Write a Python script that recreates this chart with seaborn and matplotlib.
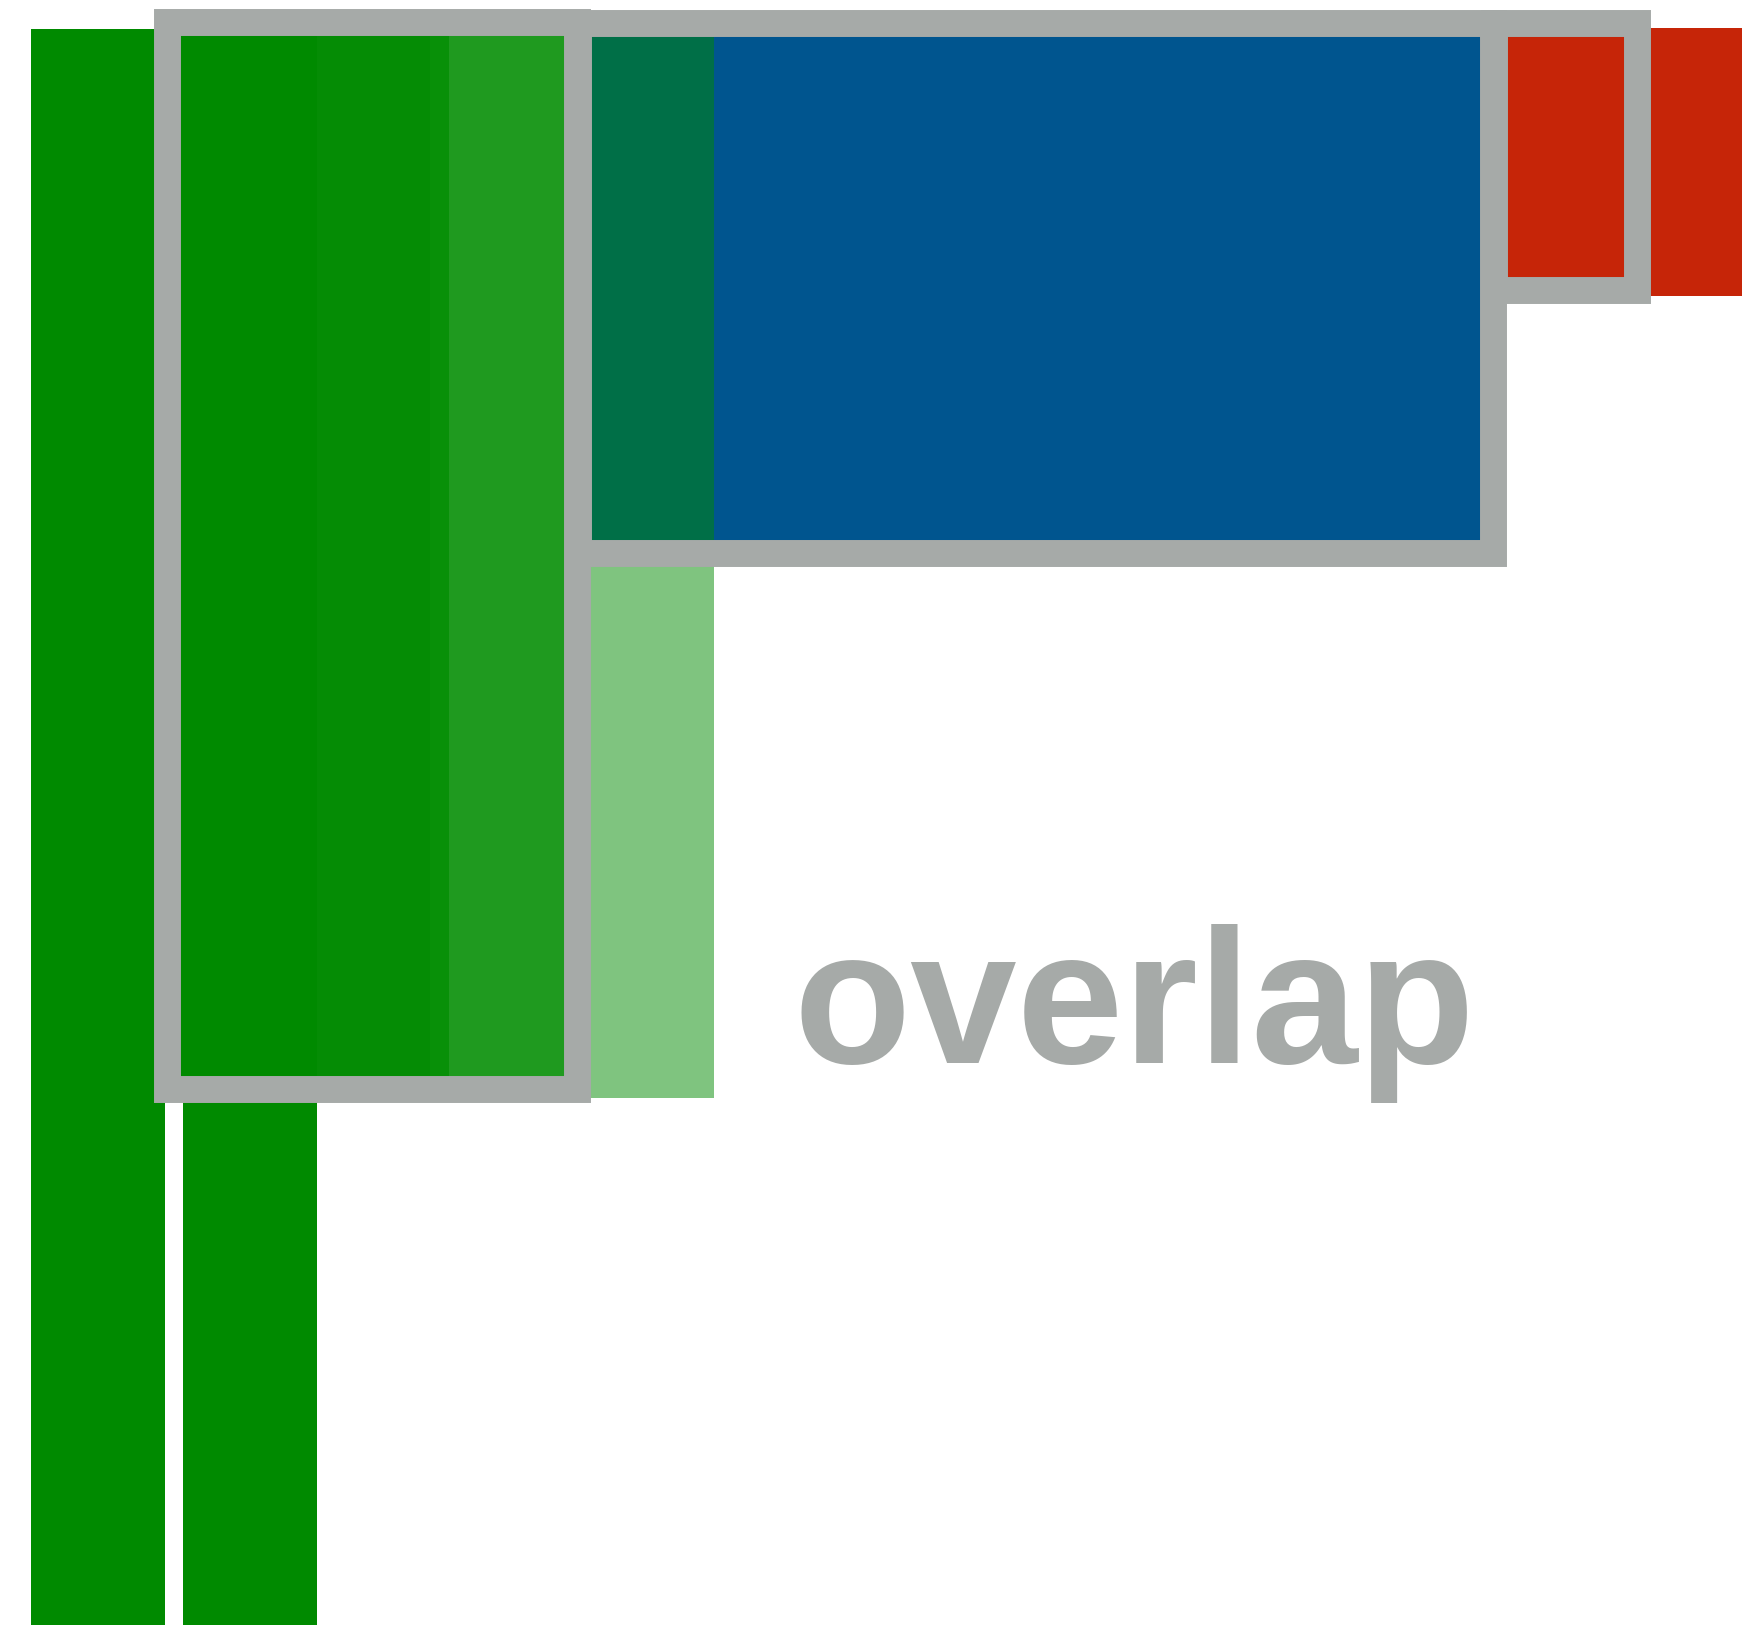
import numpy as np
import pandas as pd
import matplotlib
matplotlib.use("Agg")
import matplotlib.pyplot as plt
import seaborn as sns

# canvas size in px (data units == pixels, y measured from the top edge)
W, H = 1742, 1625

# full-height green columns
col_center = [98, 250]
col_top = [29, 29]
col_width = 134
col_color = "#008a00"

# bands inside the first highlight box
band_left = [166, 317, 430, 449]
band_right = [317, 430, 449, 577]
band_colors = ["#008a00", "#058c05", "#089008", "#1f9a1f"]
band_top, band_bottom = 21, 1089

# blue block
blue_left, blue_right = 578, 1493
blue_top, blue_bottom = 23, 553

# translucent green column overlapping the blue block
tg_left, tg_right = 590, 714
tg_top, tg_bottom = 23, 1098

# red block running off the right edge
red_left, red_right = 1494, 1742
red_top, red_bottom = 28, 296

# grey highlight frames (line centres)
box_left = [166.5, 578, 1494]
box_right = [577, 1493, 1637]
box_top = [21.5, 23, 23]
box_bottom = [1089, 553, 290]

label = "overlap"
label_x, label_y = 1134, 1063

GREY = "#a6aaa8"


def yb(v):
    # top-based pixel -> bottom-based axis value
    return H - np.asarray(v, dtype=float)


sns.set_theme(style="white")
plt.rcParams['font.family'] = ['Liberation Sans', 'DejaVu Sans']

fig = plt.figure(figsize=(W / 100, H / 100), dpi=100)
ax = fig.add_axes([0, 0, 1, 1])

# columns via seaborn on a native numeric x scale
cols = pd.DataFrame({"x": col_center, "h": yb(col_top)})
spacing = col_center[1] - col_center[0]
sns.barplot(data=cols, x="x", y="h", native_scale=True, width=col_width / spacing,
            color=col_color, saturation=1, errorbar=None, linewidth=0, ax=ax, zorder=1)

# bands inside box 1
ax.bar(band_left, band_bottom - band_top, width=np.subtract(band_right, band_left),
       bottom=yb(band_bottom), align="edge", color=band_colors, linewidth=0, zorder=2)

# blue block
ax.bar(blue_left, blue_bottom - blue_top, width=blue_right - blue_left,
       bottom=yb(blue_bottom), align="edge", color="#00558f", linewidth=0, zorder=2)

# translucent green column
ax.bar(tg_left, tg_bottom - tg_top, width=tg_right - tg_left,
       bottom=yb(tg_bottom), align="edge", color="#008a00", alpha=0.5,
       linewidth=0, zorder=3)

# red block
ax.bar(red_left, red_bottom - red_top, width=red_right - red_left,
       bottom=yb(red_bottom), align="edge", color="#c62508", linewidth=0, zorder=2)

# grey frames
ax.bar(box_left, np.subtract(box_bottom, box_top), width=np.subtract(box_right, box_left),
       bottom=yb(box_bottom), align="edge", fill=False, edgecolor=GREY,
       linewidth=19.4, joinstyle="miter", zorder=4)

ax.text(label_x, yb(label_y), label, ha="center", va="baseline",
        fontsize=138, fontweight="bold", color=GREY, zorder=5)

ax.set_xlim(0, W)
ax.set_ylim(0, H)
ax.axis("off")

fig.savefig("out.png", dpi=100, facecolor="white")
